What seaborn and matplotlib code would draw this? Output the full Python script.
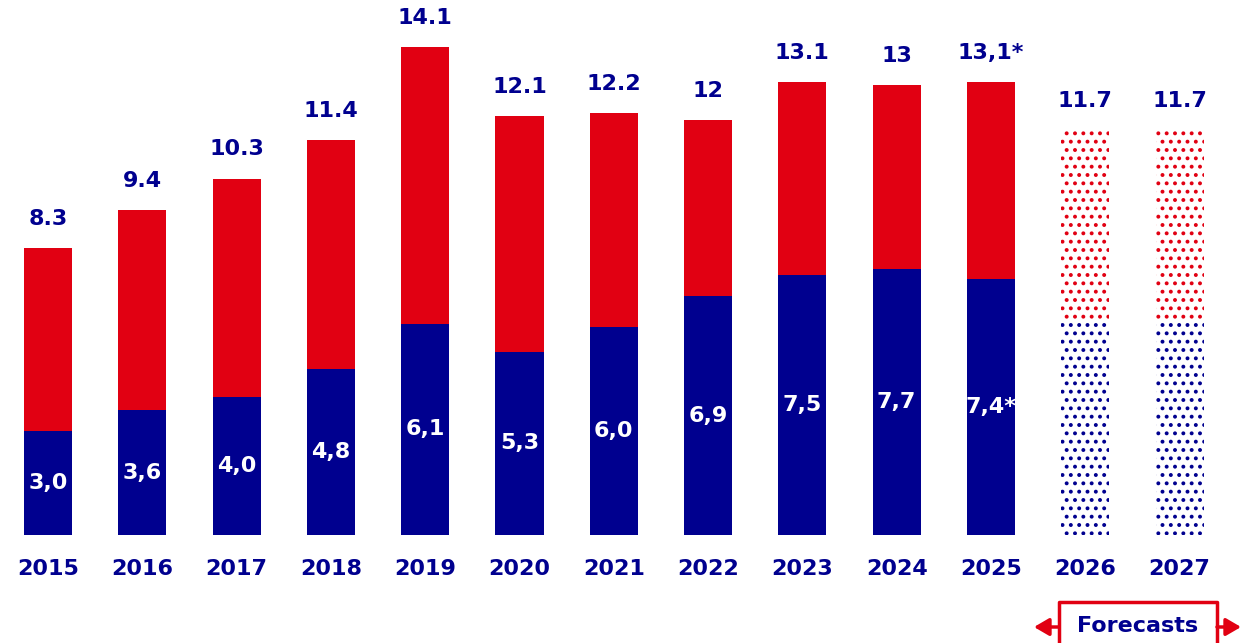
import matplotlib
matplotlib.use("Agg")
import matplotlib.pyplot as plt
import seaborn as sns
import pandas as pd
from matplotlib.lines import Line2D
from matplotlib.patches import FancyArrowPatch

years = ["2015", "2016", "2017", "2018", "2019", "2020", "2021", "2022",
         "2023", "2024", "2025", "2026", "2027"]
totals = [8.3, 9.4, 10.3, 11.4, 14.1, 12.1, 12.2, 12.0, 13.1, 13.0, 13.1, 11.7, 11.7]
total_labels = ["8.3", "9.4", "10.3", "11.4", "14.1", "12.1", "12.2", "12",
                "13.1", "13", "13,1*", "11.7", "11.7"]
lower = [3.0, 3.6, 4.0, 4.8, 6.1, 5.3, 6.0, 6.9, 7.5, 7.7, 7.4, 6.2, 6.2]
lower_labels = ["3,0", "3,6", "4,0", "4,8", "6,1", "5,3", "6,0", "6,9",
                "7,5", "7,7", "7,4*", "", ""]
forecast_years = ["2026", "2027"]
forecast_text = "Forecasts"

NAVY = "#00008F"
RED = "#E10012"

sns.set_theme(style="white")
plt.rcParams["font.family"] = ["DejaVu Sans"]
plt.rcParams["hatch.linewidth"] = 1.6

df = pd.DataFrame({"year": years, "total": totals, "lower": lower})

fig = plt.figure(figsize=(12.5, 6.43), dpi=100)
ax = fig.add_axes([0, 108 / 643, 1, 535 / 643])

sns.barplot(data=df, x="year", y="total", order=years, color=RED,
            saturation=1, width=0.51, ax=ax, linewidth=0)
n = len(years)
sns.barplot(data=df, x="year", y="lower", order=years, color=NAVY,
            saturation=1, width=0.51, ax=ax, linewidth=0)

red_patches = ax.patches[:n]
blue_patches = ax.patches[n:2 * n]
for i, y in enumerate(years):
    if y in forecast_years:
        for p, c in ((red_patches[i], RED), (blue_patches[i], NAVY)):
            p.set_facecolor("white")
            p.set_edgecolor(c)
            p.set_hatch("..")
            p.set_linewidth(0)

ax.set_xlim(-0.509, 12.747)
ax.set_ylim(0, 15.46)
for s in ax.spines.values():
    s.set_visible(False)
ax.set_yticks([])
ax.set_xlabel("")
ax.set_ylabel("")
ax.tick_params(axis="x", length=0, pad=17)
for lab in ax.get_xticklabels():
    lab.set_fontsize(16)
    lab.set_fontweight("bold")
    lab.set_color(NAVY)

for i in range(n):
    ax.annotate(total_labels[i], (i, totals[i]), xytext=(0, 21),
                textcoords="offset points", ha="center", va="center",
                fontsize=16, fontweight="bold", color=NAVY)
    if lower_labels[i]:
        ax.text(i, lower[i] / 2, lower_labels[i], ha="center", va="center",
                fontsize=16, fontweight="bold", color="white")

# Forecasts box
W, H = 1250, 643
def fx(px): return px / W
def fy(py): return 1 - py / H

lw = 2.5
box_l, box_r, box_t = fx(1059), fx(1217), fy(602)
fig.add_artist(Line2D([box_l, box_l, box_r, box_r], [-0.02, box_t, box_t, -0.02],
                      transform=fig.transFigure, color=RED, lw=lw))
ya = fy(627)
for x0, x1 in ((box_l, fx(1034)), (box_r, fx(1241))):
    fig.add_artist(FancyArrowPatch((x0, ya), (x1, ya), transform=fig.transFigure,
                                   arrowstyle="-|>,head_length=6,head_width=3.5",
                                   color=RED, lw=lw, mutation_scale=1.5,
                                   shrinkA=0, shrinkB=0))
fig.text((box_l + box_r) / 2, fy(626), forecast_text, ha="center", va="center",
         fontsize=16, fontweight="bold", color=NAVY)

fig.savefig("out.png", dpi=100)
